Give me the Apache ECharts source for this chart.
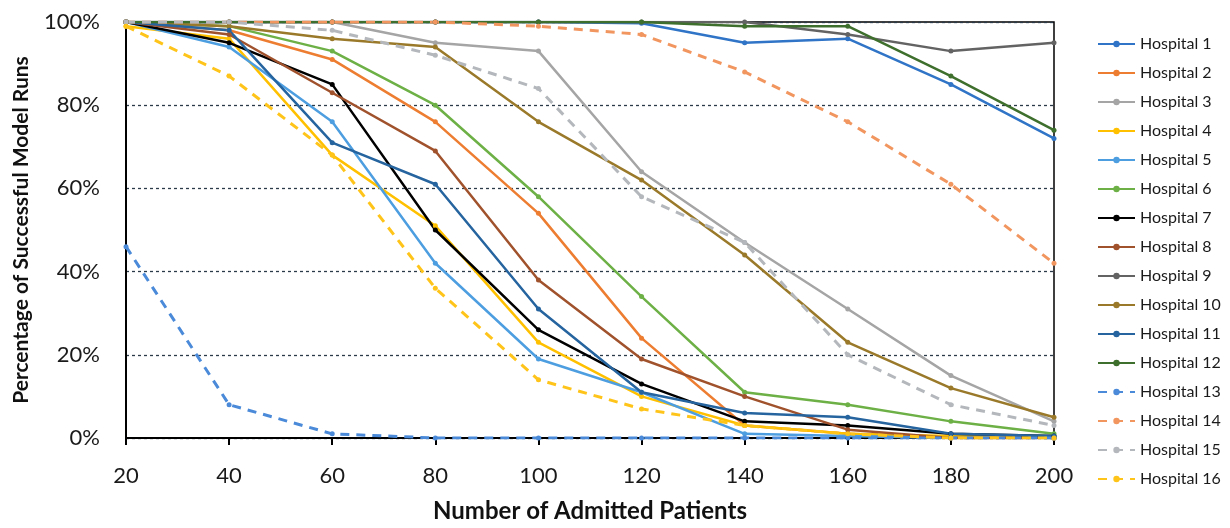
<!DOCTYPE html>
<html>
<head>
<meta charset="utf-8">
<script src="https://cdn.jsdelivr.net/npm/echarts@6/dist/echarts.min.js"></script>
<style>
  html, body { margin: 0; padding: 0; background: #fff; }
  #chart { width: 1230px; height: 528px; }
</style>
</head>
<body>
<div id="chart"></div>
<script>
const patients = [20, 40, 60, 80, 100, 120, 140, 160, 180, 200];

const hospital1 = [100, 100, 100, 100, 100, 99.7, 95, 96, 85, 72];
const hospital2 = [100, 98, 91, 76, 54, 24, 3, 1, 0, 0];
const hospital3 = [100, 100, 100, 95, 93, 64, 47, 31, 15, 4];
const hospital4 = [99, 96, 68, 51, 23, 10, 3, 1, 0.5, 0];
const hospital5 = [100, 94, 76, 42, 19, 11, 1, 0.5, 0, 0];
const hospital6 = [100, 99, 93, 80, 58, 34, 11, 8, 4, 1];
const hospital7 = [100, 95, 85, 50, 26, 13, 4, 3, 1, 0.5];
const hospital8 = [100, 97, 83, 69, 38, 19, 10, 2, 0, 0];
const hospital9 = [100, 100, 100, 100, 100, 100, 100, 97, 93, 95];
const hospital10 = [100, 99, 96, 94, 76, 62, 44, 23, 12, 5];
const hospital11 = [100, 98, 71, 61, 31, 11, 6, 5, 1, 0.5];
const hospital12 = [100, 100, 100, 100, 100, 100, 99, 99, 87, 74];
const hospital13 = [46, 8, 1, 0, 0, 0, 0, 0, 0, 0];
const hospital14 = [100, 100, 100, 100, 99, 97, 88, 76, 61, 42];
const hospital15 = [100, 100, 98, 92, 84, 58, 47, 20, 8, 3];
const hospital16 = [99, 87, 68, 36, 14, 7, 3, 1, 0, 0];

const seriesList = [
  { name: 'Hospital 1', data: hospital1, color: '#2f74c6', dashed: false },
  { name: 'Hospital 2', data: hospital2, color: '#ed7d31', dashed: false },
  { name: 'Hospital 3', data: hospital3, color: '#a5a5a5', dashed: false },
  { name: 'Hospital 4', data: hospital4, color: '#ffc000', dashed: false },
  { name: 'Hospital 5', data: hospital5, color: '#4d9ee0', dashed: false },
  { name: 'Hospital 6', data: hospital6, color: '#6db046', dashed: false },
  { name: 'Hospital 7', data: hospital7, color: '#000000', dashed: false },
  { name: 'Hospital 8', data: hospital8, color: '#a0522d', dashed: false },
  { name: 'Hospital 9', data: hospital9, color: '#636363', dashed: false },
  { name: 'Hospital 10', data: hospital10, color: '#9a7a2a', dashed: false },
  { name: 'Hospital 11', data: hospital11, color: '#25649e', dashed: false },
  { name: 'Hospital 12', data: hospital12, color: '#3f6f2c', dashed: false },
  { name: 'Hospital 13', data: hospital13, color: '#4a8ad8', dashed: true },
  { name: 'Hospital 14', data: hospital14, color: '#f29660', dashed: true },
  { name: 'Hospital 15', data: hospital15, color: '#b4b8bc', dashed: true },
  { name: 'Hospital 16', data: hospital16, color: '#ffc41a', dashed: true }
];

const chart = echarts.init(document.getElementById('chart'));

const series = seriesList.map((s) => ({
  name: s.name,
  type: 'line',
  data: patients.map((p, i) => [p, s.data[i]]),
  symbol: 'circle',
  symbolSize: 5,
  showSymbol: true,
  itemStyle: { color: s.color },
  lineStyle: {
    width: s.dashed ? 3 : 2.5,
    type: s.dashed ? [9, 7] : 'solid'
  },
  z: 3
}));

chart.setOption({
  backgroundColor: '#ffffff',
  textStyle: { fontFamily: 'Lato' },
  animation: false,
  legend: {
    orient: 'vertical',
    left: 1092,
    top: 31,
    itemWidth: 37,
    itemHeight: 8,
    itemGap: 13,
    textStyle: { fontSize: 16, color: '#1a1a1a', fontFamily: 'Lato' },
    data: seriesList.map((s) => s.name)
  },
  grid: {
    left: 126,
    right: 176,
    top: 22,
    bottom: 83,
    show: true,
    borderColor: '#000',
    borderWidth: 1.5
  },
  xAxis: {
    type: 'value',
    min: 20,
    max: 200,
    interval: 20,
    name: 'Number of Admitted Patients',
    nameLocation: 'middle',
    nameGap: 61,
    nameTextStyle: { fontSize: 24, fontWeight: 'bold', color: '#111', fontFamily: 'Lato' },
    axisLine: { show: true, lineStyle: { color: '#000', width: 2 } },
    axisTick: { show: true, length: 7, inside: false, lineStyle: { color: '#000', width: 2 } },
    axisLabel: { fontSize: 22, color: '#1a1a1a', margin: 27 },
    splitLine: { show: false }
  },
  yAxis: {
    type: 'value',
    min: 0,
    max: 100,
    interval: 20,
    name: 'Percentage of Successful Model Runs',
    nameLocation: 'middle',
    nameGap: 94,
    nameTextStyle: { fontSize: 21, fontWeight: 'bold', color: '#111', fontFamily: 'Lato' },
    axisLine: { show: true, lineStyle: { color: '#000', width: 2 } },
    axisTick: { show: false },
    axisLabel: { fontSize: 22, color: '#1a1a1a', margin: 26, formatter: '{value}%' },
    splitLine: { show: true, lineStyle: { color: '#2b3a48', width: 1.3, type: [3, 3] } }
  },
  series
});
</script>
</body>
</html>
